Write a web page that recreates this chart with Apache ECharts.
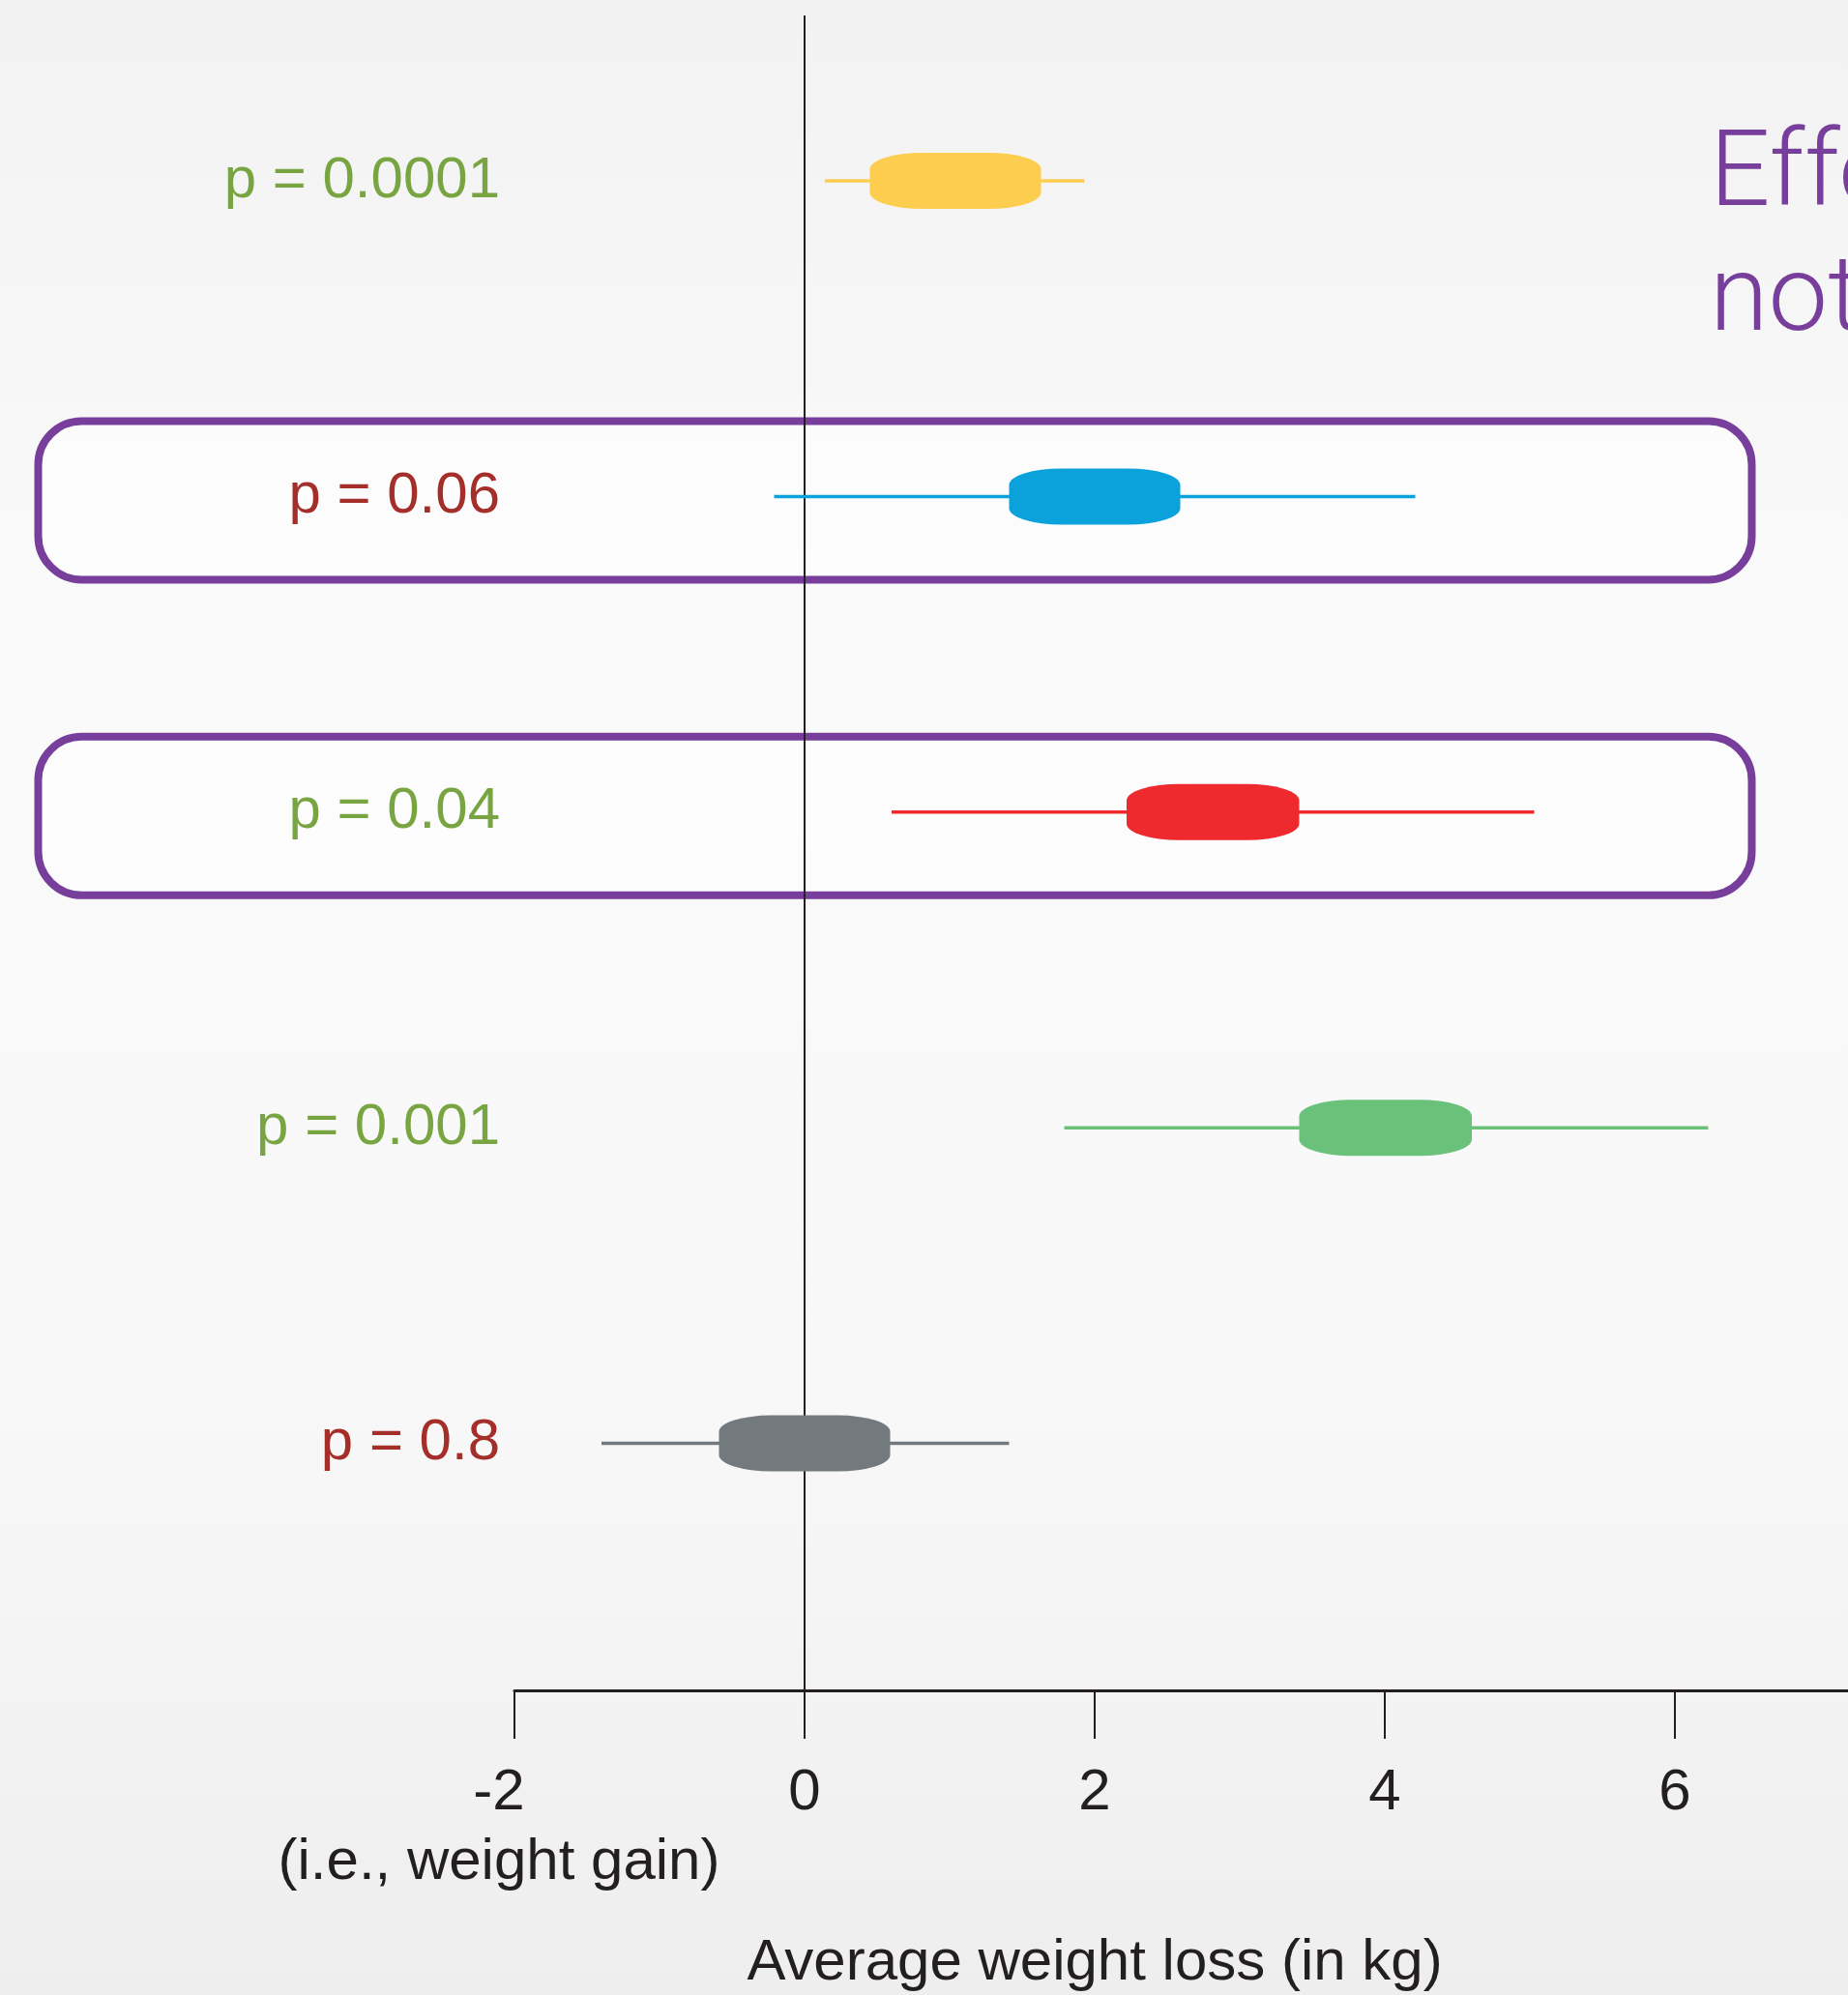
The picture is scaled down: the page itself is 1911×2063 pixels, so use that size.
<!DOCTYPE html>
<html>
<head>
<meta charset="utf-8">
<style>
  html, body { margin: 0; padding: 0; background: #f6f6f6; }
  #chart { width: 1911px; height: 2063px; }
</style>
<script src="https://cdn.jsdelivr.net/npm/echarts@6/dist/echarts.min.js"></script>
</head>
<body>
<div id="chart"></div>
<script>
// ---------- data ----------
const pLabels   = ['p = 0.0001', 'p = 0.06', 'p = 0.04', 'p = 0.001', 'p = 0.8'];
const ciLow     = [0.14, -0.21, 0.60, 1.79, -1.40];
const ciHigh    = [1.93, 4.21, 5.03, 6.23, 1.41];
const boxLow    = [0.45, 1.41, 2.22, 3.41, -0.59];
const boxHigh   = [1.63, 2.59, 3.41, 4.60, 0.59];
const highlightRows = [1, 2];
const tickValues = [-2, 0, 2, 4, 6, 8];
const tickLabels = ['-2\n(i.e., weight gain)', '0', '2', '4', '6', '8'];
const xAxisTitle = 'Average weight loss (in kg)';
const noteLines = ['Effect', 'not'];

// ---------- styles ----------
const markColors  = ['#fdcd50', '#0ba2dc', '#ee2a2f', '#6ac17a', '#737a7d'];
const labelColors = ['#78a542', '#a42e29', '#78a542', '#78a542', '#a42e29'];
const purple = '#773f9b';
const ink = '#231f20';
const FONT = '"Liberation Sans", Arial, sans-serif';

const yMin = -0.524, yMax = 4.7825;

const boxData = pLabels.map((p, i) => [i, ciLow[i], ciHigh[i], boxLow[i], boxHigh[i]]);
const hlData = highlightRows.map(r => [0, r]);

function boxPath(x0, x1, yc, h, rx, ry) {
  const y0 = yc - h / 2, y1 = yc + h / 2;
  rx = Math.min(rx, (x1 - x0) / 2);
  return `M${x0 + rx},${y0} L${x1 - rx},${y0} A${rx},${ry} 0 0 1 ${x1},${y0 + ry} ` +
         `L${x1},${y1 - ry} A${rx},${ry} 0 0 1 ${x1 - rx},${y1} L${x0 + rx},${y1} ` +
         `A${rx},${ry} 0 0 1 ${x0},${y1 - ry} L${x0},${y0 + ry} A${rx},${ry} 0 0 1 ${x0 + rx},${y0} Z`;
}

const chart = echarts.init(document.getElementById('chart'), null, { renderer: 'canvas' });

const option = {
  animation: false,
  backgroundColor: {
    type: 'linear', x: 0, y: 0, x2: 0, y2: 1,
    colorStops: [
      { offset: 0, color: '#f2f2f2' },
      { offset: 0.3, color: '#fafafa' },
      { offset: 0.7, color: '#f8f8f8' },
      { offset: 0.85, color: '#f3f3f3' },
      { offset: 1, color: '#eeeeee' }
    ]
  },
  grid: { left: 532, width: 1500, top: 16, height: 1732, containLabel: false, outerBoundsMode: 'none' },
  xAxis: {
    type: 'value', min: -2, max: 8, interval: 2,
    splitLine: { show: false },
    axisLine: { show: true, onZero: false, lineStyle: { color: ink, width: 3 } },
    axisTick: { show: true, length: 50, lineStyle: { color: ink, width: 2 } },
    axisLabel: {
      color: ink, fontSize: 60, fontFamily: FONT, margin: 70, lineHeight: 72,
      formatter: v => {
        const k = tickValues.indexOf(v);
        if (k < 0) return '';
        if (v < 0) return tickLabels[k].split('\n').map(s => '{neg|' + s + '}').join('\n');
        return tickLabels[k];
      },
      rich: {
        neg: { color: ink, fontSize: 60, fontFamily: FONT, lineHeight: 72, padding: [0, 32, 0, 0] }
      }
    },
    name: xAxisTitle, nameLocation: 'middle', nameGap: 252,
    nameTextStyle: { color: ink, fontSize: 60, fontFamily: FONT, padding: [0, 300, 0, 0] }
  },
  yAxis: {
    type: 'value', min: yMin, max: yMax, inverse: true,
    axisLine: { show: false }, axisTick: { show: false }, axisLabel: { show: false },
    splitLine: { show: false }
  },
  graphic: [
    { type: 'text', x: 1768, y: 184, style: { text: noteLines[0], fill: purple, fontSize: 110, fontWeight: 300, fontFamily: 'Roboto', verticalAlign: 'middle' } },
    { type: 'text', x: 1768, y: 313, style: { text: noteLines[1], fill: purple, fontSize: 110, fontWeight: 300, fontFamily: 'Roboto', verticalAlign: 'middle' } }
  ],
  series: [
    {
      type: 'custom', z: 1, clip: false, silent: true,
      data: hlData,
      renderItem: (params, api) => {
        const cy = api.coord([0, api.value(1)])[1] + 4;
        return {
          type: 'rect',
          shape: { x: 39.5, y: cy - 82, width: 1772, height: 164, r: 45 },
          style: { fill: 'rgba(255,255,255,0.55)', stroke: purple, lineWidth: 8 }
        };
      }
    },
    {
      type: 'line', z: 2, silent: true, symbol: 'none',
      data: [[0, yMin], [0, yMax]],
      lineStyle: { color: ink, width: 2 }
    },
    {
      type: 'custom', z: 3, clip: false, silent: true,
      data: boxData,
      renderItem: (params, api) => {
        const i = api.value(0);
        const pLo = api.coord([api.value(1), i]);
        const pHi = api.coord([api.value(2), i]);
        const bLo = api.coord([api.value(3), i]);
        const bHi = api.coord([api.value(4), i]);
        const left = api.coord([-2, i])[0];
        const cy = pLo[1];
        return {
          type: 'group',
          children: [
            { type: 'line', shape: { x1: pLo[0], y1: cy, x2: pHi[0], y2: cy },
              style: { stroke: markColors[i], lineWidth: 3.5 } },
            { type: 'path', shape: { pathData: boxPath(bLo[0], bHi[0], cy, 58, 54, 17) },
              style: { fill: markColors[i] } },
            { type: 'text', style: { text: pLabels[i], x: left - 15, y: cy, fill: labelColors[i],
                fontSize: 60, fontFamily: FONT, align: 'right', verticalAlign: 'middle' } }
          ]
        };
      }
    }
  ]
};
chart.setOption(option);
</script>
</body>
</html>
